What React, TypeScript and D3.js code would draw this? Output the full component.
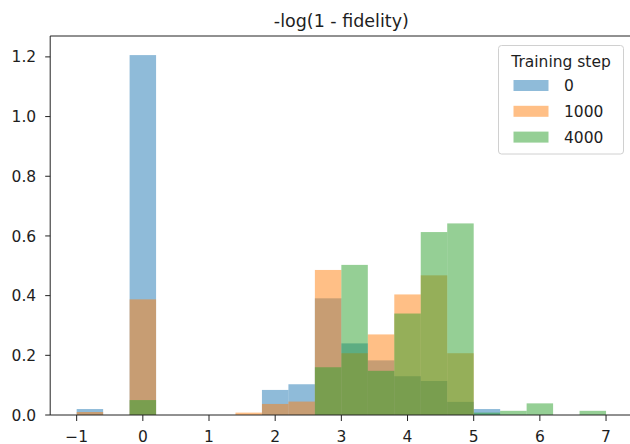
import React from "react";
import * as d3 from "d3";

const binEdges = [-1.0, -0.6, -0.2, 0.2, 0.6, 1.0, 1.4, 1.8, 2.2, 2.6, 3.0, 3.4, 3.8, 4.2, 4.6, 5.0, 5.4, 5.8, 6.2, 6.6, 7.0];
const seriesNames = ["0", "1000", "4000"];
const step0 = [0.02, 0, 1.206, 0, 0, 0, 0, 0.084, 0.103, 0.391, 0.24, 0.183, 0.13, 0.114, 0.044, 0.02, 0, 0, 0, 0];
const step1000 = [0.01, 0, 0.3875, 0, 0, 0, 0.008, 0.037, 0.045, 0.486, 0.207, 0.27, 0.404, 0.468, 0.207, 0, 0, 0, 0, 0];
const step4000 = [0, 0, 0.05, 0, 0, 0, 0, 0, 0, 0.16, 0.503, 0.148, 0.34, 0.613, 0.642, 0.008, 0.014, 0.039, 0, 0.014];
const xTicks = [-1, 0, 1, 2, 3, 4, 5, 6, 7];
const yTicks = [0.0, 0.2, 0.4, 0.6, 0.8, 1.0, 1.2];
const colors = ["#1f77b4", "#ff7f0e", "#2ca02c"];
const title = "-log(1 - fidelity)";
const legendTitle = "Training step";

const W = 630;
const H = 444;
const FONT = "DejaVu Sans, sans-serif";
const FS = 15.5;

export default function App() {
  const series = [step0, step1000, step4000];
  const x = d3.scaleLinear().domain([-1.4, 7.4]).range([50.2, 632.5]);
  const y = d3.scaleLinear().domain([0, 1.27]).range([415, 36]);
  const [x0, x1] = x.range();
  const [y0, y1] = y.range();
  const fmtY = d3.format(".1f");
  const fmtX = (v: number) => (v < 0 ? "\u2212" + Math.abs(v) : String(v));

  const legX = 498.5;
  const legY = 45.5;
  const legW = 125;
  const legH = 108.5;

  return (
    <div style={{ position: "absolute", left: 0, top: 0 }}>
      <svg width={W} height={H} style={{ display: "block" }} fontFamily={FONT}>
        <rect x={0} y={0} width={W} height={H} fill="#fff" />
        {series.map((vals, si) => (
          <g key={si}>
            {vals.map((v, i) =>
              v > 0 ? (
                <rect
                  key={i}
                  x={x(binEdges[i])}
                  width={x(binEdges[i + 1]) - x(binEdges[i])}
                  y={y(v)}
                  height={y(0) - y(v)}
                  fill={colors[si]}
                  fillOpacity={0.5}
                />
              ) : null
            )}
          </g>
        ))}
        {/* spines */}
        <g stroke="#222" strokeWidth={1} fill="none">
          <line x1={x0} x2={x0} y1={y1} y2={y0} />
          <line x1={x0} x2={x1} y1={y0} y2={y0} />
          <line x1={x0} x2={x1} y1={y1} y2={y1} />
          <line x1={x1} x2={x1} y1={y1} y2={y0} />
        </g>
        {/* y ticks */}
        {yTicks.map((t) => (
          <g key={"y" + t}>
            <line x1={x0 - 5} x2={x0} y1={y(t)} y2={y(t)} stroke="#222" strokeWidth={1} />
            <text x={x0 - 14} y={y(t)} dy="0.36em" textAnchor="end" fontSize={FS} fill="#1e1e1e">
              {fmtY(t)}
            </text>
          </g>
        ))}
        {/* x ticks */}
        {xTicks.map((t) => (
          <g key={"x" + t}>
            <line x1={x(t)} x2={x(t)} y1={y0} y2={y0 + 6} stroke="#222" strokeWidth={1} />
            <text x={x(t)} y={y0 + 26.5} textAnchor="middle" fontSize={FS} fill="#1e1e1e">
              {fmtX(t)}
            </text>
          </g>
        ))}
        {/* title */}
        <text x={(x0 + x1) / 2} y={27} textAnchor="middle" fontSize={17.5} fill="#1e1e1e">
          {title}
        </text>
        {/* legend */}
        <g>
          <rect x={legX} y={legY} width={legW} height={legH} rx={3} fill="#fff" fillOpacity={0.8} stroke="#d0d0d0" strokeWidth={1} />
          <text x={legX + legW / 2} y={legY + 21.5} textAnchor="middle" fontSize={FS} fill="#1e1e1e">
            {legendTitle}
          </text>
          {seriesNames.map((name, i) => (
            <g key={name}>
              <rect x={513.5} y={80 + i * 25.8} width={35} height={11} fill={colors[i]} fillOpacity={0.5} />
              <text x={564} y={85.5 + i * 25.8} dy="0.36em" fontSize={FS} fill="#1e1e1e">
                {name}
              </text>
            </g>
          ))}
        </g>
      </svg>
    </div>
  );
}
